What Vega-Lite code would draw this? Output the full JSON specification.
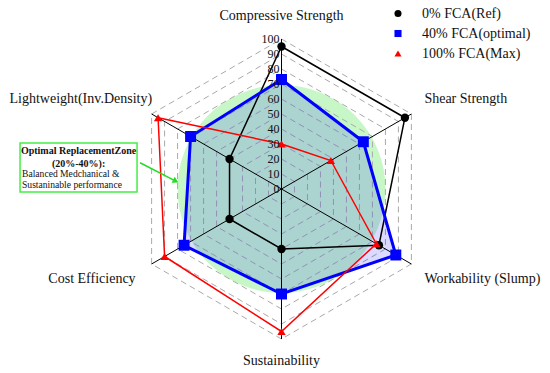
{
  "$schema": "https://vega.github.io/schema/vega-lite/v6.json",
  "width": 550,
  "height": 373,
  "padding": 0,
  "autosize": {"type": "none"},
  "background": "white",
  "config": {
    "view": {"stroke": null},
    "font": "Liberation Serif"
  },
  "datasets": {
    "series": [
      {"series": "0% FCA(Ref)", "k": 0, "value": 95},
      {"series": "0% FCA(Ref)", "k": 1, "value": 95},
      {"series": "0% FCA(Ref)", "k": 2, "value": 75},
      {"series": "0% FCA(Ref)", "k": 3, "value": 40},
      {"series": "0% FCA(Ref)", "k": 4, "value": 40},
      {"series": "0% FCA(Ref)", "k": 5, "value": 40},
      {"series": "40% FCA(optimal)", "k": 0, "value": 73},
      {"series": "40% FCA(optimal)", "k": 1, "value": 63},
      {"series": "40% FCA(optimal)", "k": 2, "value": 88},
      {"series": "40% FCA(optimal)", "k": 3, "value": 70},
      {"series": "40% FCA(optimal)", "k": 4, "value": 75},
      {"series": "40% FCA(optimal)", "k": 5, "value": 70},
      {"series": "100% FCA(Max)", "k": 0, "value": 30},
      {"series": "100% FCA(Max)", "k": 1, "value": 38},
      {"series": "100% FCA(Max)", "k": 2, "value": 73},
      {"series": "100% FCA(Max)", "k": 3, "value": 95},
      {"series": "100% FCA(Max)", "k": 4, "value": 90},
      {"series": "100% FCA(Max)", "k": 5, "value": 95}
    ],
    "axes": [
      {"k": 0, "name": "Compressive Strength"},
      {"k": 1, "name": "Shear Strength"},
      {"k": 2, "name": "Workability (Slump)"},
      {"k": 3, "name": "Sustainability"},
      {"k": 4, "name": "Cost Efficiency"},
      {"k": 5, "name": "Lightweight(Inv.Density)"}
    ],
    "grid": [
      {"level": 10, "k": [0, 1, 2, 3, 4, 5]},
      {"level": 20, "k": [0, 1, 2, 3, 4, 5]},
      {"level": 30, "k": [0, 1, 2, 3, 4, 5]},
      {"level": 40, "k": [0, 1, 2, 3, 4, 5]},
      {"level": 50, "k": [0, 1, 2, 3, 4, 5]},
      {"level": 60, "k": [0, 1, 2, 3, 4, 5]},
      {"level": 70, "k": [0, 1, 2, 3, 4, 5]},
      {"level": 80, "k": [0, 1, 2, 3, 4, 5]},
      {"level": 90, "k": [0, 1, 2, 3, 4, 5]},
      {"level": 100, "k": [0, 1, 2, 3, 4, 5]}
    ],
    "ticks": [
      {"v": 0}, {"v": 10}, {"v": 20}, {"v": 30}, {"v": 40}, {"v": 50},
      {"v": 60}, {"v": 70}, {"v": 80}, {"v": 90}, {"v": 100}
    ]
  },
  "layer": [
    {
      "data": {"values": [{"c": 1}]},
      "mark": {"type": "point", "shape": "circle", "filled": true, "size": 43264, "fill": "#90ee90", "fillOpacity": 0.5, "strokeWidth": 0},
      "encoding": {
        "x": {"datum": 0, "type": "quantitative", "scale": {"domain": [-187.667, 179], "nice": false, "zero": false}, "axis": null},
        "y": {"datum": 0, "type": "quantitative", "scale": {"domain": [-122.667, 126], "nice": false, "zero": false}, "axis": null}
      }
    },
    {
      "data": {"name": "grid"},
      "transform": [
        {"flatten": ["k"]},
        {"calculate": "datum.level * sin(datum.k * PI / 3)", "as": "x"},
        {"calculate": "datum.level * cos(datum.k * PI / 3)", "as": "y"}
      ],
      "mark": {"type": "line", "interpolate": "linear-closed", "stroke": "#aaaaaa", "strokeWidth": 1, "strokeDash": [6, 4]},
      "encoding": {
        "x": {"field": "x", "type": "quantitative", "axis": null},
        "y": {"field": "y", "type": "quantitative", "axis": null},
        "detail": {"field": "level", "type": "nominal"},
        "order": {"field": "k", "type": "quantitative"}
      }
    },
    {
      "data": {"name": "series"},
      "transform": [
        {"filter": "datum.series === '40% FCA(optimal)'"},
        {"calculate": "datum.value * sin(datum.k * PI / 3)", "as": "x"},
        {"calculate": "datum.value * cos(datum.k * PI / 3)", "as": "y"}
      ],
      "mark": {"type": "line", "interpolate": "linear-closed", "fill": "#0000ff", "fillOpacity": 0.14, "stroke": "#0000ff", "strokeOpacity": 0},
      "encoding": {
        "x": {"field": "x", "type": "quantitative", "axis": null},
        "y": {"field": "y", "type": "quantitative", "axis": null},
        "order": {"field": "k", "type": "quantitative"}
      }
    },
    {
      "data": {"name": "axes"},
      "transform": [
        {"calculate": "100 * sin(datum.k * PI / 3)", "as": "x"},
        {"calculate": "100 * cos(datum.k * PI / 3)", "as": "y"}
      ],
      "mark": {"type": "rule", "color": "black", "strokeWidth": 1},
      "encoding": {
        "x": {"field": "x", "type": "quantitative", "axis": null},
        "y": {"field": "y", "type": "quantitative", "axis": null},
        "x2": {"datum": 0},
        "y2": {"datum": 0}
      }
    },
    {
      "data": {"name": "series"},
      "transform": [
        {"filter": "datum.series === '0% FCA(Ref)'"},
        {"calculate": "datum.value * sin(datum.k * PI / 3)", "as": "x"},
        {"calculate": "datum.value * cos(datum.k * PI / 3)", "as": "y"}
      ],
      "mark": {"type": "line", "interpolate": "linear-closed", "stroke": "#000000", "strokeWidth": 1.5},
      "encoding": {
        "x": {"field": "x", "type": "quantitative", "axis": null},
        "y": {"field": "y", "type": "quantitative", "axis": null},
        "order": {"field": "k", "type": "quantitative"}
      }
    },
    {
      "data": {"name": "series"},
      "transform": [
        {"filter": "datum.series === '40% FCA(optimal)'"},
        {"calculate": "datum.value * sin(datum.k * PI / 3)", "as": "x"},
        {"calculate": "datum.value * cos(datum.k * PI / 3)", "as": "y"}
      ],
      "mark": {"type": "line", "interpolate": "linear-closed", "stroke": "#0000ff", "strokeWidth": 3},
      "encoding": {
        "x": {"field": "x", "type": "quantitative", "axis": null},
        "y": {"field": "y", "type": "quantitative", "axis": null},
        "order": {"field": "k", "type": "quantitative"}
      }
    },
    {
      "data": {"name": "series"},
      "transform": [
        {"filter": "datum.series === '100% FCA(Max)'"},
        {"calculate": "datum.value * sin(datum.k * PI / 3)", "as": "x"},
        {"calculate": "datum.value * cos(datum.k * PI / 3)", "as": "y"}
      ],
      "mark": {"type": "line", "interpolate": "linear-closed", "stroke": "#ff0000", "strokeWidth": 1.5},
      "encoding": {
        "x": {"field": "x", "type": "quantitative", "axis": null},
        "y": {"field": "y", "type": "quantitative", "axis": null},
        "order": {"field": "k", "type": "quantitative"}
      }
    },
    {
      "data": {"name": "series"},
      "transform": [
        {"calculate": "datum.value * sin(datum.k * PI / 3)", "as": "x"},
        {"calculate": "datum.value * cos(datum.k * PI / 3)", "as": "y"}
      ],
      "mark": {"type": "point", "filled": true, "opacity": 1, "size": 70},
      "encoding": {
        "x": {"field": "x", "type": "quantitative", "axis": null},
        "y": {"field": "y", "type": "quantitative", "axis": null},
        "color": {"field": "series", "type": "nominal", "scale": {"domain": ["0% FCA(Ref)", "40% FCA(optimal)", "100% FCA(Max)"], "range": ["#000000", "#0000ff", "#ff0000"]},
          "legend": {"title": null, "orient": "none", "legendX": 391, "legendY": 6.5, "labelFont": "Liberation Serif", "labelFontSize": 14, "labelColor": "#111111", "symbolSize": 50, "rowPadding": 6, "labelOffset": 17, "symbolStrokeWidth": 0}},
        "shape": {"field": "series", "type": "nominal", "scale": {"domain": ["0% FCA(Ref)", "40% FCA(optimal)", "100% FCA(Max)"], "range": ["circle", "square", "triangle-up"]}}
      }
    },
    {
      "data": {"name": "series"},
      "transform": [
        {"filter": "datum.series === '40% FCA(optimal)'"},
        {"calculate": "datum.value * sin(datum.k * PI / 3)", "as": "x"},
        {"calculate": "datum.value * cos(datum.k * PI / 3)", "as": "y"}
      ],
      "mark": {"type": "point", "shape": "square", "filled": true, "opacity": 1, "size": 120, "color": "#0000ff"},
      "encoding": {
        "x": {"field": "x", "type": "quantitative", "axis": null},
        "y": {"field": "y", "type": "quantitative", "axis": null}
      }
    },
    {
      "data": {"name": "ticks"},
      "mark": {"type": "text", "align": "right", "baseline": "middle", "dx": -2, "fontSize": 12, "font": "Liberation Serif", "color": "#111111"},
      "encoding": {
        "x": {"datum": 0, "type": "quantitative", "axis": null},
        "y": {"field": "v", "type": "quantitative", "axis": null},
        "text": {"field": "v", "type": "quantitative"}
      }
    },
    {
      "data": {"name": "axes"},
      "transform": [
        {"filter": "datum.k === 0 || datum.k === 3"},
        {"calculate": "0", "as": "x"},
        {"calculate": "115 * cos(datum.k * PI / 3)", "as": "y"}
      ],
      "mark": {"type": "text", "align": "center", "baseline": "middle", "fontSize": 14, "font": "Liberation Serif", "color": "#111111"},
      "encoding": {
        "x": {"field": "x", "type": "quantitative", "axis": null},
        "y": {"field": "y", "type": "quantitative", "axis": null},
        "text": {"field": "name", "type": "nominal"}
      }
    },
    {
      "data": {"name": "axes"},
      "transform": [
        {"filter": "datum.k === 1 || datum.k === 2"},
        {"calculate": "110 * sin(datum.k * PI / 3)", "as": "x"},
        {"calculate": "120 * cos(datum.k * PI / 3)", "as": "y"}
      ],
      "mark": {"type": "text", "align": "left", "baseline": "middle", "fontSize": 14, "font": "Liberation Serif", "color": "#111111"},
      "encoding": {
        "x": {"field": "x", "type": "quantitative", "axis": null},
        "y": {"field": "y", "type": "quantitative", "axis": null},
        "text": {"field": "name", "type": "nominal"}
      }
    },
    {
      "data": {"name": "axes"},
      "transform": [
        {"filter": "datum.k === 4 || datum.k === 5"},
        {"calculate": "110 * sin(datum.k * PI / 3) + (datum.k === 5 ? 9 : -2)", "as": "x"},
        {"calculate": "120 * cos(datum.k * PI / 3)", "as": "y"}
      ],
      "mark": {"type": "text", "align": "right", "baseline": "middle", "fontSize": 14, "font": "Liberation Serif", "color": "#111111"},
      "encoding": {
        "x": {"field": "x", "type": "quantitative", "axis": null},
        "y": {"field": "y", "type": "quantitative", "axis": null},
        "text": {"field": "name", "type": "nominal"}
      }
    },
    {
      "data": {"values": [{"c": 1}]},
      "mark": {"type": "rect", "fill": "white", "stroke": "#44ee44", "strokeWidth": 1.5},
      "encoding": {
        "x": {"datum": -174.3, "type": "quantitative", "axis": null},
        "x2": {"datum": -96.3},
        "y": {"datum": 30.7, "type": "quantitative", "axis": null},
        "y2": {"datum": -2}
      }
    },
    {
      "data": {"values": [{"c": 1}]},
      "mark": {"type": "text", "align": "center", "baseline": "middle", "fontSize": 10, "fontWeight": "bold", "font": "Liberation Serif", "lineHeight": 13, "color": "#111111", "text": ["Optimal ReplacementZone", "(20%-40%):"]},
      "encoding": {
        "x": {"datum": -135.3, "type": "quantitative", "axis": null},
        "y": {"datum": 25.5, "type": "quantitative", "axis": null}
      }
    },
    {
      "data": {"values": [{"c": 1}]},
      "mark": {"type": "text", "align": "left", "baseline": "middle", "fontSize": 9.6, "font": "Liberation Serif", "lineHeight": 11.5, "color": "#111111", "text": ["Balanced Medchanical &", "Sustaninable performance"]},
      "encoding": {
        "x": {"datum": -173, "type": "quantitative", "axis": null},
        "y": {"datum": 10.2, "type": "quantitative", "axis": null}
      }
    },
    {
      "data": {"values": [{"c": 1}]},
      "mark": {"type": "rule", "color": "#22dd22", "strokeWidth": 1.5},
      "encoding": {
        "x": {"datum": -94.3, "type": "quantitative", "axis": null},
        "x2": {"datum": -70.5},
        "y": {"datum": 17.5, "type": "quantitative", "axis": null},
        "y2": {"datum": 5.3}
      }
    },
    {
      "data": {"values": [{"c": 1}]},
      "mark": {"type": "point", "shape": "triangle-up", "filled": true, "size": 45, "angle": 117.5, "color": "#22dd22", "opacity": 1},
      "encoding": {
        "x": {"datum": -70.5, "type": "quantitative", "axis": null},
        "y": {"datum": 5.3, "type": "quantitative", "axis": null}
      }
    }
  ]
}
